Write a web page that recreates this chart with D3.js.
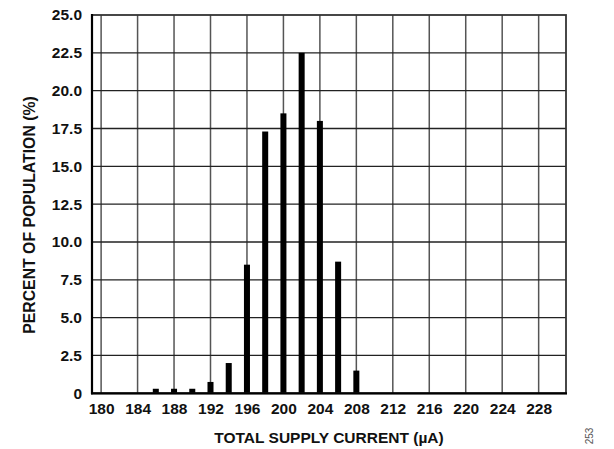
<!DOCTYPE html>
<html>
<head>
<meta charset="utf-8">
<script src="https://cdn.jsdelivr.net/npm/d3@7"></script>
<style>
  html, body { margin: 0; padding: 0; background: #fff; }
  svg { display: block; }
  text { font-family: "Liberation Sans", Arial, Helvetica, sans-serif; }
</style>
</head>
<body>
<svg id="chart" width="614" height="449"></svg>
<script>
const currents = [186, 188, 190, 192, 194, 196, 198, 200, 202, 204, 206, 208];
const percents = [0.3, 0.3, 0.3, 0.75, 2.0, 8.5, 17.3, 18.5, 22.5, 18.0, 8.7, 1.5];
const xTickValues = [180, 184, 188, 192, 196, 200, 204, 208, 212, 216, 220, 224, 228];
const yTickValues = [0, 2.5, 5, 7.5, 10, 12.5, 15, 17.5, 20, 22.5, 25];
const xTitle = "TOTAL SUPPLY CURRENT (µA)";
const yTitle = "PERCENT OF POPULATION (%)";
const figNote = "253";

const svg = d3.select("#chart");
const pL = 92, pR = 566, pT = 15, pB = 393.3;
const FS = 15.5;

const x = d3.scaleLinear().domain([179, 231]).range([pL, pR]);
const y = d3.scaleLinear().domain([0, 25]).range([pB, pT]);

// grid
const grid = svg.append("g");
grid.selectAll("line.v").data(xTickValues).enter().append("line")
  .attr("x1", d => x(d)).attr("x2", d => x(d))
  .attr("y1", pT).attr("y2", pB)
  .attr("stroke", "#555").attr("stroke-width", 1.5);
grid.selectAll("line.h").data(yTickValues.filter(v => v > 0 && v < 25)).enter().append("line")
  .attr("x1", pL).attr("x2", pR)
  .attr("y1", d => y(d)).attr("y2", d => y(d))
  .attr("stroke", "#222").attr("stroke-width", 1.3);

// bars
const data = currents.map((c, i) => ({c, p: percents[i]}));
svg.append("g").selectAll("rect").data(data).enter().append("rect")
  .attr("x", d => x(d.c - 0.33))
  .attr("width", d => x(d.c + 0.33) - x(d.c - 0.33))
  .attr("y", d => y(d.p))
  .attr("height", d => y(0) - y(d.p))
  .attr("fill", "#000");

// frame
svg.append("rect").attr("x", pL).attr("y", pT)
  .attr("width", pR - pL).attr("height", pB - pT)
  .attr("fill", "none").attr("stroke", "#333").attr("stroke-width", 1.8);
svg.append("line").attr("x1", pL).attr("x2", pL).attr("y1", pT - 1).attr("y2", pB + 1)
  .attr("stroke", "#000").attr("stroke-width", 2.2);
svg.append("line").attr("x1", pL - 1).attr("x2", pR + 1).attr("y1", pB).attr("y2", pB)
  .attr("stroke", "#000").attr("stroke-width", 2.2);

// axes (labels only)
const xAxis = d3.axisBottom(x).tickValues(xTickValues).tickSize(0).tickPadding(10).tickFormat(d3.format("d"));
const gx = svg.append("g").attr("transform", `translate(0,${pB})`).call(xAxis);
gx.select(".domain").remove();
gx.selectAll("text").attr("font-size", FS).attr("font-weight", "bold").attr("fill", "#111")
  .attr("font-family", "\"Liberation Sans\", Arial, sans-serif");

const yAxis = d3.axisLeft(y).tickValues(yTickValues).tickSize(0).tickPadding(10)
  .tickFormat(d => d === 0 ? "0" : d3.format(".1f")(d));
const gy = svg.append("g").attr("transform", `translate(${pL},0)`).call(yAxis);
gy.select(".domain").remove();
gy.selectAll("text").attr("font-size", FS).attr("font-weight", "bold").attr("fill", "#111")
  .attr("font-family", "\"Liberation Sans\", Arial, sans-serif");

// titles
svg.append("text").attr("x", (pL + pR) / 2).attr("y", 443)
  .attr("text-anchor", "middle").attr("font-size", FS).attr("font-weight", "bold").attr("fill", "#111")
  .text(xTitle);
svg.append("text")
  .attr("transform", `translate(35,215) rotate(-90)`)
  .attr("text-anchor", "middle").attr("font-size", 15.8).attr("font-weight", "bold").attr("fill", "#111")
  .text(yTitle);
svg.append("text")
  .attr("transform", `translate(593,436) rotate(-90)`)
  .attr("text-anchor", "middle").attr("font-size", 10).attr("fill", "#555")
  .text(figNote);
</script>
</body>
</html>
